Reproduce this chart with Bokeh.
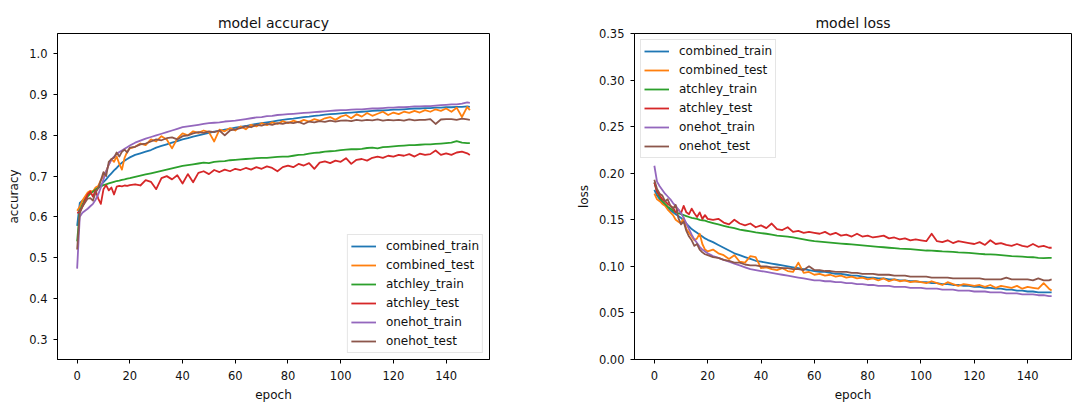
from bokeh.plotting import figure
from bokeh.layouts import row
from bokeh.models import Range1d, FixedTicker, NumeralTickFormatter
from bokeh.embed import file_html
from bokeh.resources import INLINE

FONT = "DejaVu Sans"

SERIES = ["combined_train", "combined_test", "atchley_train", "atchley_test", "onehot_train", "onehot_test"]
COLORS = ["#1f77b4", "#ff7f0e", "#2ca02c", "#d62728", "#9467bd", "#8c564b"]

EPOCHS = [0, 1, 2, 3, 4, 5, 6, 7, 8, 9, 10, 11, 12, 13, 14, 15, 16, 17, 18, 19, 20,
          22, 24, 26, 28, 30, 32, 34, 36, 38, 40,
          42, 44, 46, 48, 50, 52, 54, 56, 58, 60,
          62, 64, 66, 68, 70, 72, 74, 76, 78, 80,
          82, 84, 86, 88, 90, 92, 94, 96, 98, 100,
          102, 104, 106, 108, 110, 112, 114, 116, 118, 120,
          122, 124, 126, 128, 130, 132, 134, 136, 138, 140,
          142, 144, 146, 148, 149]

# ---------------- accuracy ----------------
acc_combined_train = [0.578, 0.634, 0.640, 0.645, 0.652, 0.658, 0.663, 0.667, 0.672, 0.678, 0.685, 0.692, 0.700, 0.707, 0.714, 0.720, 0.727, 0.733, 0.738, 0.742, 0.746,
                      0.752, 0.756, 0.760, 0.764, 0.770, 0.774, 0.778, 0.782, 0.786, 0.790,
                      0.793, 0.797, 0.800, 0.803, 0.806, 0.809, 0.811, 0.814, 0.816, 0.819,
                      0.821, 0.823, 0.826, 0.828, 0.830, 0.832, 0.834, 0.836, 0.838, 0.840,
                      0.841, 0.843, 0.845, 0.846, 0.848, 0.849, 0.851, 0.852, 0.853, 0.854,
                      0.855, 0.856, 0.857, 0.858, 0.859, 0.860, 0.861, 0.861, 0.862, 0.863,
                      0.863, 0.864, 0.865, 0.866, 0.866, 0.867, 0.867, 0.868, 0.868, 0.869,
                      0.869, 0.870, 0.870, 0.871, 0.870]
acc_combined_test = [0.615, 0.625, 0.640, 0.650, 0.660, 0.664, 0.662, 0.672, 0.676, 0.690, 0.700, 0.712, 0.728, 0.742, 0.735, 0.748, 0.730, 0.716, 0.745, 0.760, 0.768,
                     0.772, 0.780, 0.776, 0.790, 0.785, 0.798, 0.790, 0.768, 0.792, 0.805,
                     0.800, 0.810, 0.806, 0.812, 0.808, 0.785, 0.814, 0.810, 0.818, 0.812,
                     0.822, 0.815, 0.826, 0.822, 0.830, 0.825, 0.832, 0.828, 0.835, 0.830,
                     0.836, 0.832, 0.838, 0.834, 0.840, 0.836, 0.842, 0.845, 0.838, 0.846,
                     0.850, 0.842, 0.852, 0.846, 0.855, 0.848, 0.853, 0.858, 0.850, 0.856,
                     0.852, 0.858, 0.855, 0.860, 0.856, 0.862, 0.858, 0.864, 0.860, 0.866,
                     0.858, 0.868, 0.845, 0.870, 0.862]
acc_atchley_train = [0.540, 0.615, 0.630, 0.642, 0.650, 0.657, 0.662, 0.667, 0.671, 0.675, 0.678, 0.680, 0.682, 0.684, 0.686, 0.688, 0.689, 0.691, 0.692, 0.694, 0.695,
                     0.698, 0.701, 0.704, 0.707, 0.710, 0.713, 0.716, 0.719, 0.722, 0.725,
                     0.727, 0.729, 0.731, 0.733, 0.732, 0.735, 0.736, 0.737, 0.739, 0.740,
                     0.741, 0.742, 0.743, 0.744, 0.745, 0.745, 0.746, 0.747, 0.748, 0.748,
                     0.750, 0.752, 0.753, 0.755, 0.757, 0.758, 0.760, 0.761, 0.762, 0.764,
                     0.765, 0.766, 0.766, 0.767, 0.769, 0.770, 0.768, 0.771, 0.772, 0.773,
                     0.774, 0.775, 0.776, 0.776, 0.777, 0.778, 0.778, 0.779, 0.780, 0.781,
                     0.782, 0.786, 0.782, 0.781, 0.781]
acc_atchley_test = [0.610, 0.612, 0.625, 0.640, 0.655, 0.662, 0.650, 0.665, 0.645, 0.632, 0.668, 0.678, 0.665, 0.672, 0.655, 0.674, 0.676, 0.675, 0.677, 0.676, 0.678,
                    0.680, 0.677, 0.690, 0.686, 0.668, 0.695, 0.700, 0.692, 0.702, 0.682,
                    0.705, 0.685, 0.708, 0.712, 0.705, 0.715, 0.710, 0.716, 0.712, 0.718,
                    0.715, 0.720, 0.716, 0.722, 0.718, 0.724, 0.720, 0.712, 0.722, 0.726,
                    0.722, 0.730, 0.726, 0.732, 0.718, 0.733, 0.736, 0.732, 0.738, 0.735,
                    0.744, 0.730, 0.740, 0.742, 0.738, 0.745, 0.748, 0.745, 0.750, 0.748,
                    0.752, 0.750, 0.754, 0.748, 0.755, 0.752, 0.754, 0.763, 0.752, 0.756,
                    0.752, 0.758, 0.760, 0.756, 0.752]
acc_onehot_train = [0.473, 0.600, 0.610, 0.615, 0.620, 0.626, 0.632, 0.642, 0.655, 0.672, 0.692, 0.712, 0.728, 0.740, 0.748, 0.754, 0.759, 0.763, 0.767, 0.771, 0.775,
                    0.782, 0.787, 0.792, 0.796, 0.800, 0.804, 0.808, 0.812, 0.816, 0.820,
                    0.822, 0.824, 0.826, 0.828, 0.830, 0.831, 0.832, 0.834, 0.835, 0.836,
                    0.838, 0.840, 0.842, 0.844, 0.845, 0.847, 0.848, 0.850, 0.851, 0.852,
                    0.853, 0.854, 0.855, 0.856, 0.857, 0.858, 0.859, 0.860, 0.861, 0.862,
                    0.862, 0.863, 0.864, 0.864, 0.865, 0.866, 0.866, 0.867, 0.868, 0.868,
                    0.869, 0.869, 0.870, 0.871, 0.871, 0.872, 0.872, 0.873, 0.874, 0.875,
                    0.876, 0.876, 0.878, 0.881, 0.880]
acc_onehot_test = [0.520, 0.610, 0.625, 0.635, 0.645, 0.646, 0.640, 0.660, 0.670, 0.690, 0.710, 0.700, 0.735, 0.742, 0.745, 0.758, 0.748, 0.760, 0.765, 0.758, 0.770,
                   0.772, 0.778, 0.780, 0.785, 0.790, 0.788, 0.793, 0.795, 0.790, 0.798,
                   0.800, 0.805, 0.808, 0.806, 0.810, 0.808, 0.812, 0.800, 0.812, 0.815,
                   0.818, 0.822, 0.820, 0.826, 0.824, 0.828, 0.826, 0.830, 0.828, 0.832,
                   0.830, 0.833, 0.828, 0.834, 0.832, 0.835, 0.833, 0.836, 0.834, 0.836,
                   0.837, 0.835, 0.838, 0.836, 0.838, 0.837, 0.839, 0.836, 0.838, 0.837,
                   0.838, 0.836, 0.839, 0.837, 0.838, 0.838, 0.840, 0.828, 0.839, 0.840,
                   0.840, 0.838, 0.841, 0.839, 0.838]

# ---------------- loss ----------------
loss_combined_train = [0.182, 0.176, 0.172, 0.169, 0.166, 0.163, 0.160, 0.158, 0.156, 0.154, 0.152, 0.149, 0.146, 0.143, 0.140, 0.138, 0.136, 0.134, 0.132, 0.130, 0.1285,
                       0.126, 0.123, 0.120, 0.117, 0.114, 0.112, 0.110, 0.108, 0.106, 0.105,
                       0.104, 0.103, 0.102, 0.101, 0.100, 0.099, 0.098, 0.097, 0.096, 0.095,
                       0.094, 0.094, 0.093, 0.092, 0.092, 0.091, 0.090, 0.090, 0.089, 0.088,
                       0.088, 0.087, 0.087, 0.086, 0.086, 0.085, 0.085, 0.084, 0.084, 0.083,
                       0.083, 0.082, 0.082, 0.081, 0.081, 0.080, 0.080, 0.079, 0.079, 0.078,
                       0.078, 0.077, 0.077, 0.076, 0.076, 0.075, 0.075, 0.074, 0.074, 0.073,
                       0.073, 0.072, 0.072, 0.072, 0.072]
loss_combined_test = [0.178, 0.172, 0.170, 0.167, 0.165, 0.161, 0.158, 0.155, 0.150, 0.148, 0.146, 0.152, 0.140, 0.136, 0.132, 0.128, 0.130, 0.135, 0.124, 0.118, 0.116,
                      0.118, 0.114, 0.112, 0.108, 0.112, 0.105, 0.104, 0.111, 0.110, 0.098,
                      0.099, 0.097, 0.096, 0.098, 0.095, 0.094, 0.104, 0.093, 0.094, 0.091,
                      0.092, 0.090, 0.091, 0.089, 0.090, 0.088, 0.089, 0.087, 0.088, 0.086,
                      0.087, 0.085, 0.087, 0.084, 0.086, 0.084, 0.085, 0.083, 0.084, 0.083,
                      0.082, 0.084, 0.082, 0.080, 0.083, 0.081, 0.079, 0.081, 0.080, 0.079,
                      0.080, 0.078, 0.080, 0.077, 0.079, 0.078, 0.077, 0.079, 0.076, 0.078,
                      0.077, 0.076, 0.082, 0.076, 0.074]
loss_atchley_train = [0.190, 0.180, 0.174, 0.170, 0.167, 0.164, 0.162, 0.160, 0.158, 0.157, 0.156, 0.155, 0.154, 0.153, 0.152, 0.1515, 0.151, 0.150, 0.1495, 0.149, 0.148,
                      0.1465, 0.145, 0.1435, 0.142, 0.141, 0.1395, 0.1385, 0.1375, 0.1365, 0.1357,
                      0.135, 0.134, 0.133, 0.1325, 0.132, 0.131, 0.130, 0.129, 0.128, 0.127,
                      0.1265, 0.126, 0.1255, 0.125, 0.1245, 0.124, 0.1235, 0.123, 0.1225, 0.122,
                      0.1215, 0.121, 0.1205, 0.120, 0.1195, 0.119, 0.1188, 0.1185, 0.118, 0.1175,
                      0.117, 0.1168, 0.1165, 0.116, 0.1158, 0.1155, 0.115, 0.1148, 0.1145, 0.114,
                      0.1135, 0.113, 0.1128, 0.1125, 0.112, 0.1115, 0.111, 0.1108, 0.1105, 0.110,
                      0.1098, 0.1092, 0.1088, 0.1092, 0.109]
loss_atchley_test = [0.190, 0.180, 0.176, 0.172, 0.170, 0.167, 0.165, 0.163, 0.158, 0.161, 0.157, 0.165, 0.158, 0.156, 0.162, 0.157, 0.153, 0.158, 0.151, 0.155, 0.151,
                     0.150, 0.151, 0.147, 0.145, 0.150, 0.146, 0.144, 0.146, 0.142, 0.144,
                     0.141, 0.146, 0.140, 0.139, 0.142, 0.137, 0.138, 0.136, 0.137, 0.136,
                     0.135, 0.137, 0.134, 0.136, 0.133, 0.134, 0.132, 0.135, 0.132, 0.133,
                     0.131, 0.132, 0.133, 0.130, 0.131, 0.129, 0.130, 0.128, 0.129, 0.128,
                     0.127, 0.135, 0.127, 0.126, 0.128, 0.125, 0.127, 0.126, 0.125, 0.124,
                     0.126, 0.123, 0.128, 0.124, 0.125, 0.123, 0.122, 0.124, 0.122, 0.121,
                     0.124, 0.121, 0.122, 0.120, 0.120]
loss_onehot_train = [0.208, 0.191, 0.186, 0.182, 0.178, 0.175, 0.172, 0.168, 0.165, 0.161, 0.157, 0.152, 0.146, 0.140, 0.134, 0.129, 0.125, 0.121, 0.118, 0.116, 0.114,
                     0.111, 0.109, 0.107, 0.105, 0.103, 0.101, 0.099, 0.097, 0.096, 0.095,
                     0.094, 0.093, 0.092, 0.091, 0.090, 0.089, 0.088, 0.087, 0.086, 0.085,
                     0.085, 0.084, 0.084, 0.083, 0.083, 0.082, 0.082, 0.081, 0.081, 0.080,
                     0.080, 0.079, 0.079, 0.079, 0.078, 0.078, 0.078, 0.077, 0.077, 0.077,
                     0.076, 0.076, 0.076, 0.075, 0.075, 0.075, 0.074, 0.074, 0.074, 0.073,
                     0.073, 0.073, 0.072, 0.072, 0.072, 0.071, 0.071, 0.071, 0.070, 0.070,
                     0.070, 0.069, 0.069, 0.068, 0.068]
loss_onehot_test = [0.193, 0.183, 0.178, 0.176, 0.170, 0.172, 0.165, 0.162, 0.166, 0.152, 0.145, 0.148, 0.138, 0.132, 0.128, 0.122, 0.124, 0.118, 0.115, 0.113, 0.112,
                    0.110, 0.109, 0.107, 0.106, 0.104, 0.104, 0.102, 0.101, 0.101, 0.100,
                    0.100, 0.099, 0.099, 0.098, 0.098, 0.097, 0.097, 0.096, 0.100, 0.096,
                    0.096, 0.095, 0.095, 0.094, 0.094, 0.094, 0.093, 0.093, 0.092, 0.092,
                    0.092, 0.091, 0.091, 0.091, 0.090, 0.090, 0.090, 0.089, 0.089, 0.089,
                    0.089, 0.088, 0.088, 0.088, 0.088, 0.087, 0.087, 0.087, 0.087, 0.087,
                    0.087, 0.086, 0.086, 0.086, 0.086, 0.088, 0.086, 0.086, 0.086, 0.086,
                    0.085, 0.087, 0.085, 0.085, 0.086]

ACC = [acc_combined_train, acc_combined_test, acc_atchley_train, acc_atchley_test, acc_onehot_train, acc_onehot_test]
LOSS = [loss_combined_train, loss_combined_test, loss_atchley_train, loss_atchley_test, loss_onehot_train, loss_onehot_test]

X_TICKS = [0, 20, 40, 60, 80, 100, 120, 140]
ACC_TICKS = [0.3, 0.4, 0.5, 0.6, 0.7, 0.8, 0.9, 1.0]
LOSS_TICKS = [0.0, 0.05, 0.10, 0.15, 0.20, 0.25, 0.30, 0.35]


def make_fig(title, ylabel, data, x_range, y_range, yticks, yfmt, width, mb_left, mb_right, legend_loc):
    p = figure(width=width, height=404, output_backend="svg", toolbar_location=None,
               x_range=Range1d(*x_range), y_range=Range1d(*y_range),
               min_border_left=mb_left, min_border_right=mb_right,
               min_border_top=33, min_border_bottom=37)
    p.title.text = title
    p.title.align = "center"
    p.title.text_font = FONT
    p.title.text_font_size = "14px"
    p.title.text_font_style = "normal"
    p.title.text_color = "#111111"
    p.title.standoff = 6
    p.outline_line_color = "black"
    p.outline_line_width = 1
    p.outline_line_alpha = 1
    p.xgrid.visible = False
    p.ygrid.visible = False
    p.background_fill_color = "white"
    p.border_fill_color = "white"

    for ax in (p.xaxis[0], p.yaxis[0]):
        ax.axis_line_color = "black"
        ax.major_tick_line_color = "black"
        ax.major_tick_out = 4
        ax.major_tick_in = 0
        ax.minor_tick_line_color = None
        ax.major_label_text_font = FONT
        ax.major_label_text_font_size = "11.5px"
        ax.major_label_text_color = "#111111"
        ax.axis_label_text_font = FONT
        ax.axis_label_text_font_size = "12px"
        ax.axis_label_text_font_style = "normal"
        ax.axis_label_text_color = "#111111"
    p.xaxis[0].major_label_standoff = 7
    p.xaxis[0].axis_label_standoff = 5
    p.yaxis[0].major_label_standoff = 6
    p.yaxis[0].axis_label_standoff = 5
    p.xaxis[0].ticker = FixedTicker(ticks=X_TICKS)
    p.yaxis[0].ticker = FixedTicker(ticks=yticks)
    p.yaxis[0].formatter = NumeralTickFormatter(format=yfmt)
    p.xaxis[0].axis_label = "epoch"
    p.yaxis[0].axis_label = ylabel

    for name, col, ys in zip(SERIES, COLORS, data):
        p.line(EPOCHS, ys, color=col, line_width=1.8, line_join="round", legend_label=name)

    lg = p.legend[0]
    lg.location = legend_loc
    lg.margin = 6
    lg.padding = 3
    lg.spacing = 3
    lg.label_height = 16
    lg.glyph_height = 16
    lg.glyph_width = 25
    lg.label_standoff = 10
    lg.label_text_font = FONT
    lg.label_text_font_size = "12px"
    lg.label_text_color = "#111111"
    lg.border_line_color = "#cccccc"
    lg.border_line_width = 1
    lg.background_fill_alpha = 0.85
    return p


p1 = make_fig("model accuracy", "accuracy", ACC, (-7.45, 156.45), (0.25, 1.05),
              ACC_TICKS, "0.0", 540, 57, 51, "bottom_right")
p2 = make_fig("model loss", "loss", LOSS, (-7.45, 156.45), (0.0, 0.35),
              LOSS_TICKS, "0.00", 533, 94, 2, "top_left")

layout = row(p1, p2)
open("out.html", "w").write(file_html(layout, INLINE))
